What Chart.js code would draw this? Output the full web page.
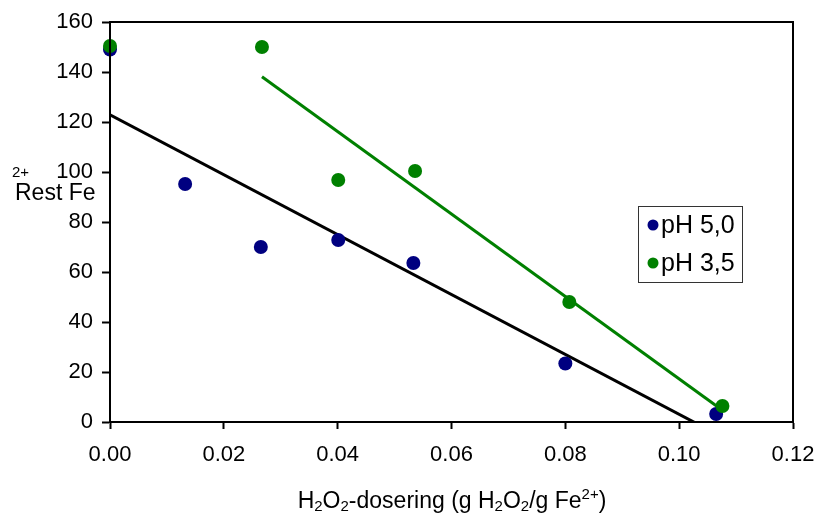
<!DOCTYPE html>
<html>
<head>
<meta charset="utf-8">
<script src="https://cdn.jsdelivr.net/npm/chart.js@4"></script>
<style>
html,body{margin:0;padding:0;background:#fff;}
#wrap{width:821px;height:513px;position:relative;}
</style>
</head>
<body>
<div id="wrap"><canvas id="c" width="821" height="513"></canvas></div>
<script>
// ---- data ----
const seriesNames = ["pH 5,0", "pH 3,5"];
const ph50X = [0, 0.0132, 0.0265, 0.0401, 0.0533, 0.0800, 0.1065];
const ph50Y = [149, 95.2, 70, 72.8, 63.6, 23.4, 3.2];
const ph35X = [0, 0.0267, 0.0401, 0.0536, 0.0807, 0.1076];
const ph35Y = [150.4, 150, 96.8, 100.4, 48, 6.4];
const ph35TrendFrom = 1; // green trendline fitted on points from this index
const xTicks = [0, 0.02, 0.04, 0.06, 0.08, 0.10, 0.12];
const yTicks = [0, 20, 40, 60, 80, 100, 120, 140, 160];

const colors = { ph50: "#000080", ph35: "#008000", trend50: "#000000", trend35: "#008000" };
const FONT = "'Liberation Sans', Arial, sans-serif";

function pts(xs, ys){ return xs.map((x,i)=>({x:x, y:ys[i]})); }
function fit(xs, ys){
  const n = xs.length;
  const mx = xs.reduce((a,b)=>a+b,0)/n, my = ys.reduce((a,b)=>a+b,0)/n;
  let sxy=0, sxx=0;
  for(let i=0;i<n;i++){ sxy += (xs[i]-mx)*(ys[i]-my); sxx += (xs[i]-mx)*(xs[i]-mx); }
  const m = sxy/sxx, b = my - m*mx;
  const x0 = Math.min(...xs), x1 = Math.max(...xs);
  return [{x:x0, y:m*x0+b}, {x:x1, y:m*x1+b}];
}
const trend50 = fit(ph50X, ph50Y);
const trend35 = fit(ph35X.slice(ph35TrendFrom), ph35Y.slice(ph35TrendFrom));

const framePlugin = {
  id: "frame",
  afterDatasetsDraw(chart){
    const {ctx, chartArea:a} = chart;
    ctx.save();
    ctx.strokeStyle = "#000"; ctx.lineWidth = 2;
    ctx.strokeRect(a.left, a.top, a.right-a.left, a.bottom-a.top);
    ctx.restore();
  },
  afterDraw(chart){
    const ctx = chart.ctx;
    ctx.save();
    ctx.fillStyle = "#000";
    ctx.textBaseline = "alphabetic";
    // y label
    ctx.font = "15px " + FONT;
    ctx.textAlign = "left";
    ctx.fillText("2+", 12, 177);
    ctx.font = "23px " + FONT;
    ctx.fillText("Rest Fe", 15, 200);
    // x title with sub/superscripts
    const segs = [["H",0],["2",1],["O",0],["2",1],["-dosering (g H",0],["2",1],["O",0],["2",1],["/g Fe",0],["2+",2],[")",0]];
    const big = "23px " + FONT, small = "15px " + FONT;
    let w = 0;
    segs.forEach(s=>{ ctx.font = s[1] ? small : big; w += ctx.measureText(s[0]).width; });
    let x = 452 - w/2; const base = 508;
    segs.forEach(s=>{
      ctx.font = s[1] ? small : big;
      const dy = s[1]===1 ? 3 : (s[1]===2 ? -9 : 0);
      ctx.fillText(s[0], x, base+dy);
      x += ctx.measureText(s[0]).width;
    });
    // legend
    ctx.strokeStyle = "#333"; ctx.lineWidth = 1;
    ctx.strokeRect(638.5, 206.5, 104, 76);
    const items = [[seriesNames[0], colors.ph50, 225],[seriesNames[1], colors.ph35, 263]];
    ctx.font = "25px " + FONT; ctx.textBaseline = "middle";
    items.forEach(it=>{
      ctx.fillStyle = it[1];
      ctx.beginPath(); ctx.arc(653, it[2], 5.5, 0, Math.PI*2); ctx.fill();
      ctx.fillStyle = "#000";
      ctx.fillText(it[0], 661, it[2]+1);
    });
    ctx.restore();
  }
};

new Chart(document.getElementById("c"), {
  type: "scatter",
  data: {
    datasets: [
      { label: "trend " + seriesNames[0], type: "line", data: trend50, borderColor: colors.trend50, borderWidth: 3, pointRadius: 0, fill: false, clip: 0, order: 4 },
      { label: "trend " + seriesNames[1], type: "line", data: trend35, borderColor: colors.trend35, borderWidth: 3, pointRadius: 0, fill: false, clip: 0, order: 3 },
      { label: seriesNames[0], data: pts(ph50X, ph50Y), backgroundColor: colors.ph50, borderColor: colors.ph50, pointRadius: 7, pointHoverRadius: 7, borderWidth: 0, order: 2, clip: false },
      { label: seriesNames[1], data: pts(ph35X, ph35Y), backgroundColor: colors.ph35, borderColor: colors.ph35, pointRadius: 7, pointHoverRadius: 7, borderWidth: 0, order: 1, clip: false }
    ]
  },
  options: {
    responsive: false,
    animation: false,
    events: [],
    layout: { padding: { left: 0, right: 28, top: 22, bottom: 0 } },
    plugins: { legend: { display: false }, tooltip: { enabled: false } },
    scales: {
      x: {
        type: "linear", min: xTicks[0], max: xTicks[xTicks.length-1],
        afterFit(s){ s.height = 91; s.paddingLeft = 0; s.paddingRight = 0; },
        afterBuildTicks(s){ s.ticks = xTicks.map(v=>({value:v})); },
        ticks: { color: "#000", font: { family: FONT, size: 22 }, padding: 13, callback: v => Number(v).toFixed(2) },
        grid: { drawOnChartArea: false, tickLength: 7, tickColor: "#000", tickWidth: 2 },
        border: { color: "#000", width: 2 }
      },
      y: {
        type: "linear", min: yTicks[0], max: yTicks[yTicks.length-1],
        afterFit(s){ s.width = 110; s.paddingTop = 0; s.paddingBottom = 0; },
        afterBuildTicks(s){ s.ticks = yTicks.map(v=>({value:v})); },
        ticks: { color: "#000", font: { family: FONT, size: 22 }, padding: 9, callback: v => String(v) },
        grid: { drawOnChartArea: false, tickLength: 8, tickColor: "#000", tickWidth: 2 },
        border: { color: "#000", width: 2 }
      }
    }
  },
  plugins: [framePlugin]
});
</script>
</body>
</html>
